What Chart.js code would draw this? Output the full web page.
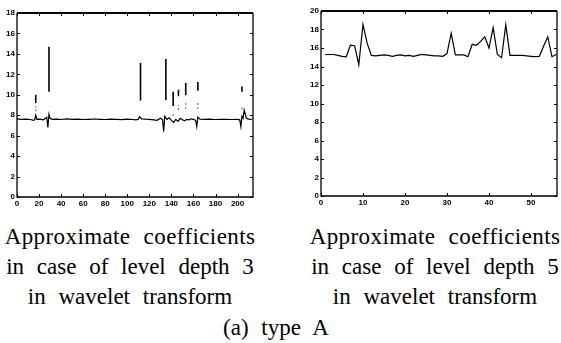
<!DOCTYPE html>
<html>
<head>
<meta charset="utf-8">
<script src="https://cdn.jsdelivr.net/npm/chart.js@4/dist/chart.umd.min.js"></script>
<style>
  html, body { margin: 0; padding: 0; background: #fff; }
  body { width: 561px; height: 343px; position: relative; overflow: hidden; }
  canvas { position: absolute; top: 0; }
  #c1 { left: 0; }
  #c2 { left: 300px; }
  .cap { position: absolute; font-family: "Liberation Serif", "Times New Roman", serif; font-size: 23px;
         line-height: 30px; word-spacing: 7px; color: #000; text-align: center; white-space: nowrap;
         transform: translateX(-50%); }
  .l1 { letter-spacing: 0.4px; }
</style>
</head>
<body>
<canvas id="c1" width="262" height="215"></canvas>
<canvas id="c2" width="261" height="215"></canvas>
<div class="cap" style="left:130px; top:222px;"><span class="l1">Approximate coefficients</span><br>in case of level depth 3<br>in wavelet transform</div>
<div class="cap" style="left:435px; top:222px;"><span class="l1">Approximate coefficients</span><br>in case of level depth 5<br>in wavelet transform</div>
<div class="cap" style="left:276px; top:313px;">(a) type A</div>
<script>
// ---- Left chart: level depth 3 ----
const leftXTicks = [0, 20, 40, 60, 80, 100, 120, 140, 160, 180, 200];
const leftYTicks = [0, 2, 4, 6, 8, 10, 12, 14, 16, 18];
const leftX = [0, 4, 8, 12, 15, 16, 17, 18, 20, 24, 27, 28, 29, 30, 32, 36, 40, 45, 50, 55, 60, 65, 70, 75, 80, 85, 90, 95, 100, 105, 108, 110, 111, 113, 116, 120, 124, 127, 130, 132, 133, 134, 136, 138, 140, 142, 144, 146, 148, 150, 152, 154, 156, 158, 160, 162, 163, 164, 166, 170, 175, 180, 185, 190, 195, 200, 202, 203, 204, 205, 206, 208, 210, 213];
const leftY = [7.65, 7.6, 7.62, 7.58, 7.5, 7.55, 8.0, 7.6, 7.62, 7.55, 7.8, 6.8, 8.1, 7.7, 7.6, 7.62, 7.58, 7.65, 7.6, 7.62, 7.58, 7.6, 7.63, 7.6, 7.58, 7.62, 7.6, 7.57, 7.62, 7.58, 7.55, 7.6, 7.85, 7.65, 7.62, 7.6, 7.55, 7.5, 7.7, 7.55, 6.4, 7.9, 7.6, 7.75, 7.5, 7.3, 7.6, 7.4, 7.7, 7.55, 7.45, 7.6, 7.55, 7.65, 7.6, 7.5, 6.9, 7.8, 7.62, 7.6, 7.62, 7.58, 7.6, 7.6, 7.58, 7.6, 7.55, 6.9, 7.9, 7.7, 8.5, 7.7, 7.62, 7.6];
const spikeX    = [17, 29, 112, 135, 141.6, 146.4, 153, 164, 204];
const spikeLow  = [9.2, 10.3, 9.45, 9.5, 8.9, 9.85, 9.95, 10.4, 10.3];
const spikeHigh = [10.0, 14.7, 13.1, 13.5, 10.3, 10.5, 11.15, 11.25, 10.8];
const faintX    = [17, 141.6, 146.4, 153, 164, 204];
const faintLow  = [8.4, 7.9, 8.5, 8.6, 8.6, 8.55];
const faintHigh = [8.9, 8.3, 9.0, 9.3, 9.2, 8.9];

// ---- Right chart: level depth 5 ----
const rightXTicks = [0, 10, 20, 30, 40, 50];
const rightYTicks = [0, 2, 4, 6, 8, 10, 12, 14, 16, 18, 20];
const rightX = [1, 2, 3, 4, 5, 6, 7, 8, 9, 10, 11, 12, 13, 14, 15, 16, 17, 18, 19, 20, 21, 22, 23, 24, 25, 26, 27, 28, 29, 30, 31, 32, 33, 34, 35, 36, 37, 38, 39, 40, 41, 42, 43, 44, 45, 46, 47, 48, 49, 50, 51, 52, 53, 54, 55, 56];
const rightY = [15.3, 15.3, 15.3, 15.2, 15.1, 15.05, 16.3, 16.25, 14.2, 18.55, 16.5, 15.2, 15.15, 15.2, 15.25, 15.2, 15.1, 15.2, 15.25, 15.15, 15.2, 15.1, 15.2, 15.3, 15.25, 15.2, 15.15, 15.15, 15.1, 15.4, 17.6, 15.25, 15.25, 15.25, 15.06, 16.4, 16.3, 16.7, 17.2, 16.0, 18.2, 15.3, 14.95, 18.5, 15.2, 15.2, 15.2, 15.2, 15.15, 15.1, 15.06, 15.1, 16.2, 17.2, 15.06, 15.3];

function pts(xs, ys) { return xs.map((x, i) => ({ x: x, y: ys[i] })); }
function segs(xs, lo, hi) {
  const out = [];
  xs.forEach((x, i) => { out.push({ x: x, y: lo[i] }, { x: x, y: hi[i] }, { x: x, y: null }); });
  return out;
}

const framePlugin = {
  id: 'frame',
  afterDatasetsDraw(chart) {
    const { ctx, chartArea: a, scales } = chart;
    ctx.save();
    ctx.strokeStyle = '#000';
    ctx.lineWidth = 1.3;
    ctx.beginPath();
    ctx.moveTo(a.left, a.top); ctx.lineTo(a.left, a.bottom); ctx.lineTo(a.right, a.bottom); ctx.lineTo(a.right, a.top);
    ctx.stroke();
    ctx.lineWidth = 2;
    ctx.beginPath(); ctx.moveTo(a.left, a.top); ctx.lineTo(a.right, a.top); ctx.stroke();
    ctx.lineWidth = 1;
    const L = 3;
    ctx.beginPath();
    scales.x.ticks.forEach(t => {
      const p = Math.round(scales.x.getPixelForValue(t.value)) + 0.5;
      ctx.moveTo(p, a.bottom); ctx.lineTo(p, a.bottom - L);
      ctx.moveTo(p, a.top); ctx.lineTo(p, a.top + L);
    });
    scales.y.ticks.forEach(t => {
      const p = Math.round(scales.y.getPixelForValue(t.value)) + 0.5;
      ctx.moveTo(a.left, p); ctx.lineTo(a.left + L, p);
      ctx.moveTo(a.right, p); ctx.lineTo(a.right - L, p);
    });
    ctx.stroke();
    ctx.restore();
  }
};

const tickFont = { family: "'Liberation Sans', Arial, sans-serif", size: 8, weight: 'bold' };

function makeChart(id, datasets, xMax, yMax, xTicks, yTicks, yW, xH, pad) {
  return new Chart(document.getElementById(id), {
    type: 'line',
    data: { datasets: datasets },
    options: {
      responsive: false, animation: false, devicePixelRatio: 1,
      layout: { padding: pad },
      plugins: { legend: { display: false }, tooltip: { enabled: false } },
      elements: { point: { radius: 0 }, line: { tension: 0 } },
      scales: {
        x: {
          type: 'linear', min: 0, max: xMax,
          afterBuildTicks: s => { s.ticks = xTicks.map(v => ({ value: v })); },
          afterFit: s => { s.height = xH; },
          grid: { display: false, drawTicks: false }, border: { display: false },
          ticks: { font: tickFont, color: '#000', padding: 2, maxRotation: 0, autoSkip: false }
        },
        y: {
          min: 0, max: yMax,
          afterBuildTicks: s => { s.ticks = yTicks.map(v => ({ value: v })); },
          afterFit: s => { s.width = yW; },
          grid: { display: false, drawTicks: false }, border: { display: false },
          ticks: { font: tickFont, color: '#000', padding: 2, autoSkip: false }
        }
      }
    },
    plugins: [framePlugin]
  });
}

makeChart('c1', [
  { data: pts(leftX, leftY), borderColor: '#000', borderWidth: 1.2 },
  { data: segs(spikeX, spikeLow, spikeHigh), borderColor: '#000', borderWidth: 1.6, spanGaps: false },
  { data: segs(faintX, faintLow, faintHigh), borderColor: '#777', borderWidth: 1.2, borderDash: [2, 2], spanGaps: false }
], 214, 18, leftXTicks, leftYTicks, 17, 18, { top: 13, right: 9, left: 0, bottom: 0 });

makeChart('c2', [
  { data: pts(rightX, rightY), borderColor: '#000', borderWidth: 1.2 }
], 56.2, 20, rightXTicks, rightYTicks, 21, 19, { top: 11, right: 4, left: 0, bottom: 0 });
</script>
</body>
</html>
